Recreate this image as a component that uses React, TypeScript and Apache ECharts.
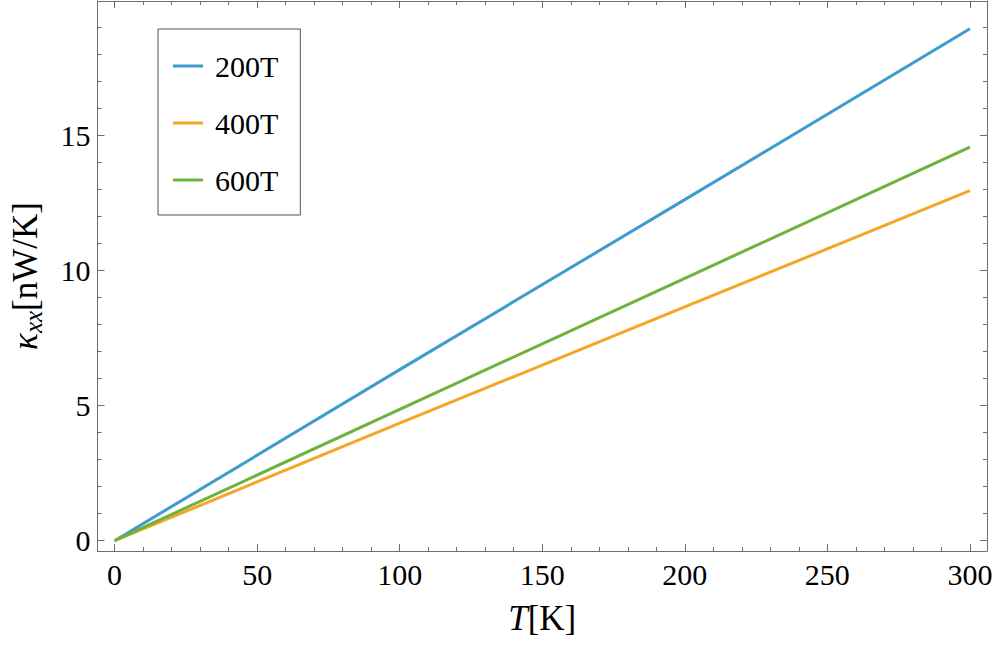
import React, { useEffect, useRef } from "react";
import * as echarts from "echarts";

const temperatures = [0, 100, 200, 300];
const kappa200T = [0, 6.33, 12.62, 18.94];
const kappa400T = [0, 4.35, 8.65, 12.95];
const kappa600T = [0, 4.86, 9.71, 14.56];
const seriesNames = ["200T", "400T", "600T"];
const xMajorTicks = [0, 50, 100, 150, 200, 250, 300];
const xMinorTicks = [0, 10, 20, 30, 40, 50, 60, 70, 80, 90, 100, 110, 120, 130, 140, 150, 160, 170, 180, 190, 200, 210, 220, 230, 240, 250, 260, 270, 280, 290, 300];
const yMajorTicks = [0, 5, 10, 15];
const yMinorTicks = [0, 1, 2, 3, 4, 5, 6, 7, 8, 9, 10, 11, 12, 13, 14, 15, 16, 17, 18, 19];

const FONT = "Liberation Serif";
const FRAME = "#6e6e6e";
const COLORS = ["#3e9bcf", "#f5a626", "#6eb13c"];

const X_MIN = -6, X_MAX = 306, Y_MIN = -0.38, Y_MAX = 19.97;

export default function App() {
  const ref = useRef<HTMLDivElement>(null);
  useEffect(() => {
    if (!ref.current) return;
    const chart = echarts.init(ref.current, null, { renderer: "svg" });
    const mkX = (pos: "bottom" | "top", vals: number[], len: number, labels: boolean, line: boolean, name?: any) => ({
      type: "value",
      position: pos,
      min: X_MIN,
      max: X_MAX,
      ...(name || {}),
      axisLine: { show: line, onZero: false, lineStyle: { color: FRAME, width: 1 } },
      axisTick: { show: true, inside: true, length: len, customValues: vals, lineStyle: { color: FRAME, width: 1 } },
      axisLabel: labels
        ? { show: true, customValues: vals, margin: 8, color: "#000", fontFamily: FONT, fontSize: 30 }
        : { show: false },
      splitLine: { show: false },
    });
    const mkY = (pos: "left" | "right", vals: number[], len: number, labels: boolean, line: boolean, name?: any) => ({
      type: "value",
      position: pos,
      min: Y_MIN,
      max: Y_MAX,
      ...(name || {}),
      axisLine: { show: line, onZero: false, lineStyle: { color: FRAME, width: 1 } },
      axisTick: { show: true, inside: true, length: len, customValues: vals, lineStyle: { color: FRAME, width: 1 } },
      axisLabel: labels
        ? { show: true, customValues: vals, margin: 7, color: "#000", fontFamily: FONT, fontSize: 30 }
        : { show: false },
      splitLine: { show: false },
    });
    const xName = {
      name: "{i|T}{n|[K]}",
      nameLocation: "middle",
      nameGap: 50,
      nameTextStyle: {
        rich: {
          i: { fontFamily: FONT, fontStyle: "italic", fontSize: 35, color: "#000" },
          n: { fontFamily: FONT, fontSize: 35, color: "#000" },
        },
      },
    };
    const yName = {
      name: "{i|κ}{s|xx}{n|[nW/K]}",
      nameLocation: "middle",
      nameGap: 52,
      nameTextStyle: {
        rich: {
          i: { fontFamily: FONT, fontStyle: "italic", fontSize: 35, color: "#000", lineHeight: 40 },
          s: { fontFamily: FONT, fontStyle: "italic", fontSize: 25, color: "#000", lineHeight: 26, verticalAlign: "bottom" },
          n: { fontFamily: FONT, fontSize: 35, color: "#000", lineHeight: 40 },
        },
      },
    };
    const pts = (ys: number[]) => temperatures.map((t, i) => [t, ys[i]]);
    const all = [kappa200T, kappa400T, kappa600T];
    chart.setOption({
      animation: false,
      backgroundColor: "#fff",
      grid: { left: 97, right: 10, top: 1, bottom: 99, containLabel: false },
      xAxis: [
        mkX("bottom", xMajorTicks, 7, true, true, xName),
        mkX("bottom", xMinorTicks, 4, false, false),
        mkX("top", xMajorTicks, 7, false, true),
        mkX("top", xMinorTicks, 4, false, false),
      ],
      yAxis: [
        mkY("left", yMajorTicks, 7, true, true, yName),
        mkY("left", yMinorTicks, 4, false, false),
        mkY("right", yMajorTicks, 7, false, true),
        mkY("right", yMinorTicks, 4, false, false),
      ],
      legend: {
        orient: "vertical",
        left: 158,
        top: 29,
        data: seriesNames,
        icon: "rect",
        itemWidth: 30,
        itemHeight: 3,
        itemGap: 27,
        padding: [22, 22, 20, 15],
        borderColor: "#555",
        borderWidth: 1,
        backgroundColor: "#fff",
        textStyle: { fontFamily: FONT, fontSize: 30, color: "#000", lineHeight: 30, padding: [0, 0, 0, 7] },
      },
      series: all.map((ys, i) => ({
        name: seriesNames[i],
        type: "line",
        data: pts(ys),
        showSymbol: false,
        symbol: "none",
        color: COLORS[i],
        lineStyle: { color: COLORS[i], width: 3 },
        xAxisIndex: 0,
        yAxisIndex: 0,
      })),
    });
    return () => chart.dispose();
  }, []);
  return <div ref={ref} style={{ width: 997, height: 650, position: "absolute", left: 0, top: 0 }} />;
}
